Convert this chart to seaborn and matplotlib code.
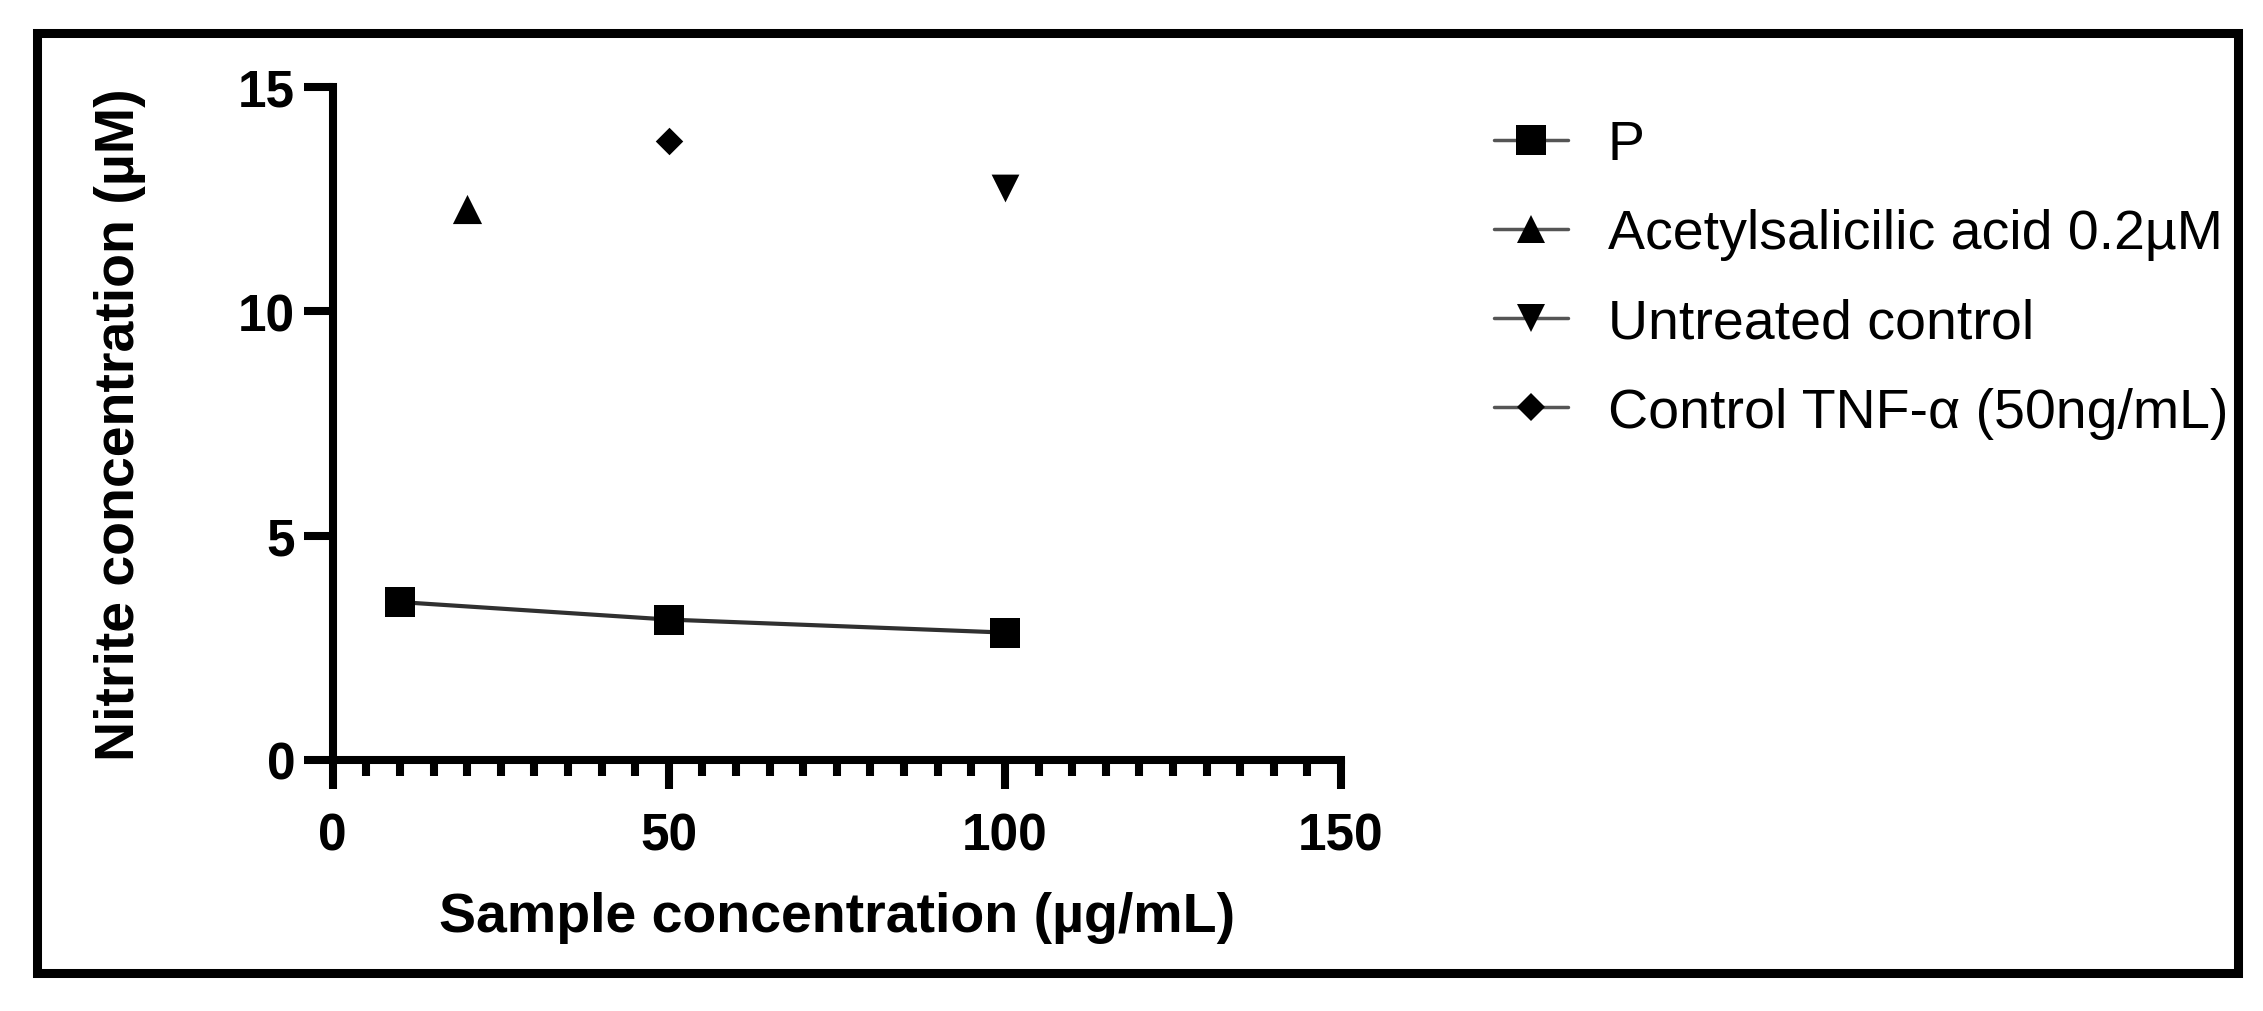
import matplotlib
matplotlib.use("Agg")
import matplotlib.pyplot as plt
import matplotlib.patches as mpatches
from matplotlib.lines import Line2D
from matplotlib.ticker import MultipleLocator, FixedLocator
import seaborn as sns
import pandas as pd

# ---- data ----
p_conc = [10, 50, 100]
p_nitrite = [3.52, 3.13, 2.84]

asa_conc = [20]
asa_nitrite = [12.28]

untreated_conc = [100]
untreated_nitrite = [12.75]

tnf_conc = [50]
tnf_nitrite = [13.8]

series_labels = ["P", "Acetylsalicilic acid 0.2\u00b5M", "Untreated control",
                 "Control TNF-\u03b1 (50ng/mL)"]
x_ticks = [0, 50, 100, 150]
y_ticks = [0, 5, 10, 15]
x_label = "Sample concentration (\u00b5g/mL)"
y_label = "Nitrite concentration (\u00b5M)"

# ---- style ----
sns.set_theme(style="ticks")
plt.rcParams["font.family"] = ["Liberation Sans", "DejaVu Sans"]
plt.rcParams["text.color"] = "black"
plt.rcParams["axes.labelcolor"] = "black"
plt.rcParams["xtick.color"] = "black"
plt.rcParams["ytick.color"] = "black"

DPI = 100
W, H = 2263, 1012
fig = plt.figure(figsize=(W / DPI, H / DPI), dpi=DPI)
fig.patch.set_facecolor("white")

ax_left, ax_right = 332.7, 1341.0
ax_top, ax_bottom = 88.0, 761.0
ax = fig.add_axes([ax_left / W, 1 - ax_bottom / H,
                   (ax_right - ax_left) / W, (ax_bottom - ax_top) / H])

df_p = pd.DataFrame({"x": p_conc, "y": p_nitrite})
sns.lineplot(data=df_p, x="x", y="y", ax=ax, color="#303030", linewidth=3.0,
             marker="s", markersize=21, markerfacecolor="black",
             markeredgecolor="black", markeredgewidth=0, zorder=3)

def single(xs, ys, marker, ms):
    d = pd.DataFrame({"x": xs, "y": ys})
    sns.scatterplot(data=d, x="x", y="y", ax=ax, marker=marker, s=ms ** 2,
                    color="black", edgecolor="black", linewidth=0, zorder=4)

single(asa_conc, asa_nitrite, "^", 21)
single(untreated_conc, untreated_nitrite, "v", 20)
single(tnf_conc, tnf_nitrite, "D", 14)

ax.set_xlim(0, 150)
ax.set_ylim(0, 15)
ax.xaxis.set_major_locator(FixedLocator(x_ticks))
ax.xaxis.set_minor_locator(MultipleLocator(5))
ax.yaxis.set_major_locator(FixedLocator(y_ticks))

for s in ["top", "right"]:
    ax.spines[s].set_visible(False)
for s in ["left", "bottom"]:
    ax.spines[s].set_linewidth(5.8)
    ax.spines[s].set_color("black")
    ax.spines[s].set_capstyle("projecting")

ax.tick_params(axis="both", which="major", direction="out", length=21,
               width=5.8, color="black", labelsize=37, labelcolor="black")
ax.tick_params(axis="x", which="major", pad=16)
ax.tick_params(axis="y", which="major", pad=6)
ax.tick_params(axis="x", which="minor", direction="out", length=11.5,
               width=5.8, color="black")
for lab in ax.get_xticklabels() + ax.get_yticklabels():
    lab.set_fontweight("bold")

ax.set_xlabel(x_label, fontsize=40, fontweight="bold", labelpad=22,
              color="black")
ax.set_ylabel(y_label, fontsize=40, fontweight="bold", labelpad=66,
              color="black")

# ---- legend ----
handles = [
    Line2D([], [], color="#555555", linewidth=2.5, marker="s", markersize=21,
           markerfacecolor="black", markeredgewidth=0),
    Line2D([], [], color="#555555", linewidth=2.5, marker="^", markersize=20,
           markerfacecolor="black", markeredgewidth=0),
    Line2D([], [], color="#555555", linewidth=2.5, marker="v", markersize=20,
           markerfacecolor="black", markeredgewidth=0),
    Line2D([], [], color="#555555", linewidth=2.5, marker="D", markersize=14,
           markerfacecolor="black", markeredgewidth=0),
]
leg = fig.legend(handles, series_labels, loc="upper left",
                 bbox_to_anchor=(1494 / W, 1 - 120 / H),
                 frameon=False, fontsize=40, handlelength=1.33,
                 handletextpad=0.72, labelspacing=0.67, borderpad=0,
                 borderaxespad=0)
for t in leg.get_texts():
    t.set_color("black")

# ---- outer frame ----
frame = mpatches.Rectangle((36.5 / W, 1 - 974 / H), (2238 - 36.5) / W,
                           (974 - 33.5) / H, transform=fig.transFigure,
                           fill=False, edgecolor="black", linewidth=6.5,
                           joinstyle="miter")
fig.patches.append(frame)

fig.savefig("out.png", dpi=DPI, facecolor="white")
